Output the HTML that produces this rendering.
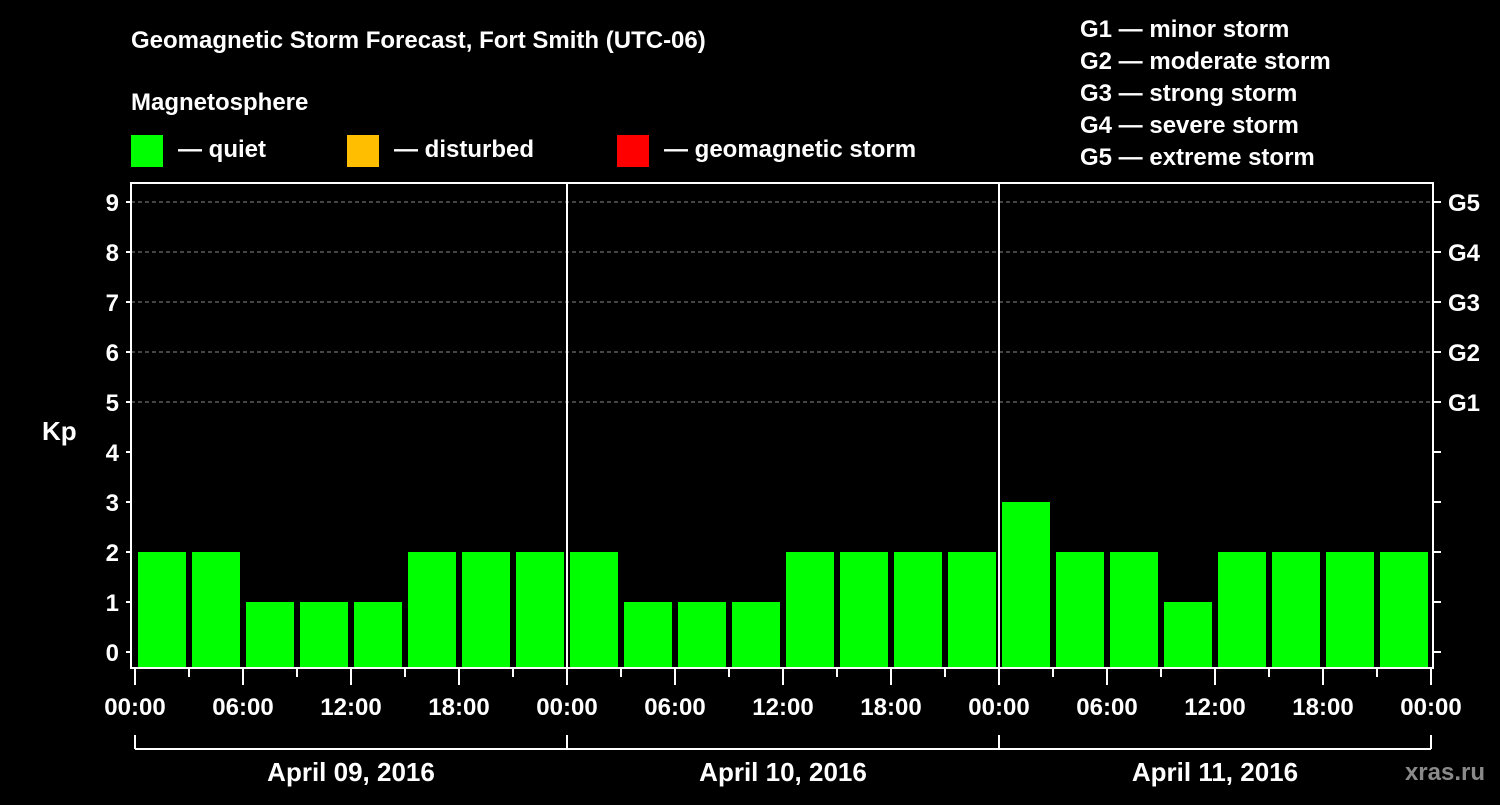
<!DOCTYPE html>
<html><head><meta charset="utf-8"><style>
body{margin:0;background:#000;width:1500px;height:800px;overflow:hidden}
svg text{font-family:"Liberation Sans",Arial,sans-serif;font-weight:bold;fill:#fff}
</style></head><body>
<svg id="c" width="1500" height="800" xmlns="http://www.w3.org/2000/svg">
<text x="131" y="48" font-size="24">Geomagnetic Storm Forecast, Fort Smith (UTC-06)</text>
<text x="131" y="110" font-size="24">Magnetosphere</text>
<g><rect x="131" y="135" width="32" height="32" fill="#00ff00"/><text x="178" y="157" font-size="24">— quiet</text></g>
<g><rect x="347" y="135" width="32" height="32" fill="#ffbf00"/><text x="394" y="157" font-size="24">— disturbed</text></g>
<g><rect x="617" y="135" width="32" height="32" fill="#ff0000"/><text x="664" y="157" font-size="24">— geomagnetic storm</text></g>
<g font-size="24">
<text x="1080" y="37">G1 — minor storm</text>
<text x="1080" y="69">G2 — moderate storm</text>
<text x="1080" y="101">G3 — strong storm</text>
<text x="1080" y="133">G4 — severe storm</text>
<text x="1080" y="165">G5 — extreme storm</text>
</g>
<text x="42" y="440" font-size="26">Kp</text>
<text x="1485" y="780" font-size="24" fill="#888" style="fill:#8a8a8a" text-anchor="end">xras.ru</text>
<g id="grid"></g><g id="bars"></g><g id="axes"></g>
</svg>
<script>
const dayLabels=["April 09, 2016","April 10, 2016","April 11, 2016"];
const kpValues=[2,2,1,1,1,2,2,2, 2,1,1,1,2,2,2,2, 3,2,2,1,2,2,2,2];
const yTicks=[0,1,2,3,4,5,6,7,8,9];
const gLabels=["G1","G2","G3","G4","G5"];
const xTickLabels=["00:00","06:00","12:00","18:00"];
const NS="http://www.w3.org/2000/svg";
const L=131,R=1433,T=183,B=668,X0=135,DAY=432;
const y=v=>652-v*50;
const x=h=>X0+h*DAY/24;
function mk(p,t,a){const e=document.createElementNS(NS,t);for(const k in a)e.setAttribute(k,a[k]);p.appendChild(e);return e;}
const grid=document.getElementById('grid'),bars=document.getElementById('bars'),axes=document.getElementById('axes');
for(let v=5;v<=9;v++){const l=mk(grid,'line',{x1:L,x2:R,y1:y(v),y2:y(v),stroke:'#888','stroke-dasharray':'4,3','stroke-width':1});

}
kpValues.forEach((v,i)=>{const c=v>=5?'#ff0000':(v>=4?'#ffbf00':'#00ff00');
const r=mk(bars,'rect',{x:x(i*3)+3,y:y(v),width:48,height:B-y(v),fill:c});

});
const f=mk(axes,'rect',{x:L,y:T,width:R-L,height:B-T,fill:'none',stroke:'#fff','stroke-width':2});


for(let d=1;d<dayLabels.length;d++){const l=mk(axes,'line',{x1:x(d*24),x2:x(d*24),y1:T,y2:B,stroke:'#fff','stroke-width':2});

}
yTicks.forEach(v=>{mk(axes,'line',{x1:L-5,x2:L,y1:y(v),y2:y(v),stroke:'#fff','stroke-width':2});
mk(axes,'line',{x1:R,x2:R+8,y1:y(v),y2:y(v),stroke:'#fff','stroke-width':2});
const t=mk(axes,'text',{x:L-12,y:y(v)+9,'font-size':24,'text-anchor':'end'});t.textContent=v;

});
gLabels.forEach((g,i)=>{const t=mk(axes,'text',{x:1448,y:y(5+i)+9,'font-size':24});t.textContent=g;

});
for(let h=0;h<=24*dayLabels.length;h+=3){const major=h%6===0;
mk(axes,'line',{x1:x(h),x2:x(h),y1:B,y2:major?B+17:B+9,stroke:'#fff','stroke-width':2});
if(major){const t=mk(axes,'text',{x:x(h),y:715,'font-size':24,'text-anchor':'middle'});t.textContent=xTickLabels[(h/6)%4];

}}
mk(axes,'line',{x1:x(0),x2:x(24*dayLabels.length),y1:749,y2:749,stroke:'#fff','stroke-width':2});
for(let d=0;d<=dayLabels.length;d++)mk(axes,'line',{x1:x(d*24),x2:x(d*24),y1:735,y2:749,stroke:'#fff','stroke-width':2});
dayLabels.forEach((s,d)=>{const t=mk(axes,'text',{x:x(d*24+12),y:781,'font-size':26,'text-anchor':'middle'});t.textContent=s;

});
</script>
</body></html>
